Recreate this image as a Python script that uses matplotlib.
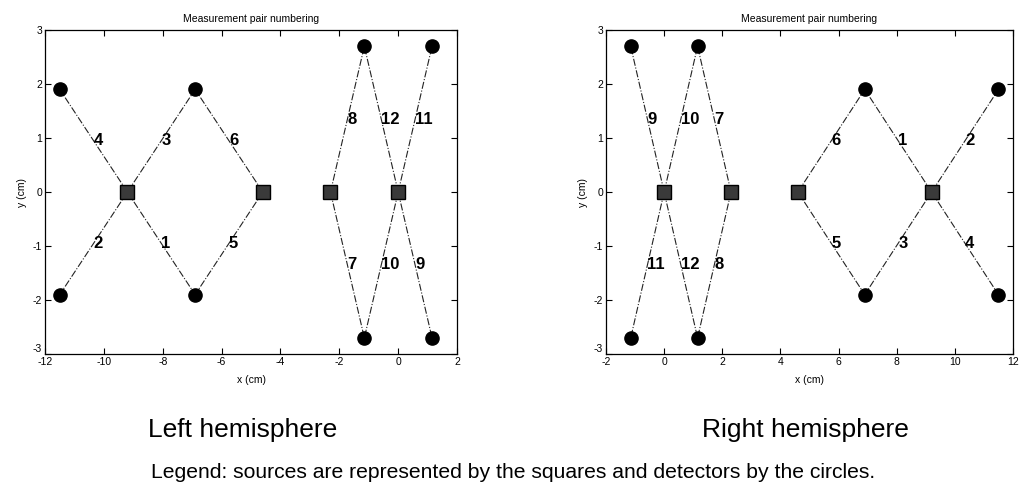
import matplotlib
matplotlib.use('Agg')
import matplotlib.pyplot as plt

plt.rcParams['font.family'] = ['Liberation Sans', 'DejaVu Sans']
plt.rcParams['axes.unicode_minus'] = False

# optode layout, left hemisphere (cm)
left_src_x = [-9.2, -4.6, -2.3, 0.0]
left_src_y = [0.0, 0.0, 0.0, 0.0]
left_det_x = [-11.5, -6.9, -11.5, -6.9, -1.15, 1.15, -1.15, 1.15]
left_det_y = [1.9, 1.9, -1.9, -1.9, 2.7, 2.7, -2.7, -2.7]

# optode layout, right hemisphere (cm)
right_src_x = [9.2, 4.6, 2.3, 0.0]
right_src_y = [0.0, 0.0, 0.0, 0.0]
right_det_x = [11.5, 6.9, 11.5, 6.9, 1.15, -1.15, 1.15, -1.15]
right_det_y = [-1.9, -1.9, 1.9, 1.9, -2.7, -2.7, 2.7, 2.7]

# measurement pairs: number -> (source index, detector index)
pair_numbers = [1, 2, 3, 4, 5, 6, 7, 8, 9, 10, 11, 12]
pair_sources = [0, 0, 0, 0, 1, 1, 2, 2, 3, 3, 3, 3]
left_pair_detectors = [3, 2, 1, 0, 3, 1, 6, 4, 7, 6, 5, 4]
right_pair_detectors = [3, 2, 1, 0, 1, 3, 6, 4, 7, 6, 5, 4]

left_xticks = [-12, -10, -8, -6, -4, -2, 0, 2]
right_xticks = [-2, 0, 2, 4, 6, 8, 10, 12]
yticks = [-3, -2, -1, 0, 1, 2, 3]


def draw_hemisphere(ax, src_x, src_y, det_x, det_y, pair_detectors, xlim, xticks):
    """
    Draws the source-detector pairs with their numbers
    """
    for num, s, d in zip(pair_numbers, pair_sources, pair_detectors):
        xs = [src_x[s], det_x[d]]
        ys = [src_y[s], det_y[d]]
        ax.plot(xs, ys, linestyle='-.', color='#222222', linewidth=0.8, zorder=1)
        ax.text((xs[0] + xs[1]) / 2, (ys[0] + ys[1]) / 2, str(num),
                ha='left', va='center', fontsize=12, fontweight='bold',
                color='black', zorder=4)
    ax.plot(src_x, src_y, linestyle='none', marker='s', markersize=9.5,
            markerfacecolor='#3a3a3a', markeredgecolor='black', zorder=3)
    ax.plot(det_x, det_y, linestyle='none', marker='o', markersize=9.5,
            markerfacecolor='black', markeredgecolor='black', zorder=3)

    ax.set_xlim(xlim)
    ax.set_ylim(-3, 3)
    ax.set_xticks(xticks)
    ax.set_yticks(yticks)
    ax.tick_params(direction='in', length=4, width=0.8, labelsize=7.5,
                   top=True, right=True, pad=2)
    for sp in ax.spines.values():
        sp.set_linewidth(0.9)
    ax.set_title('Measurement pair numbering', fontsize=7.5, pad=6)
    ax.set_xlabel('x (cm)', fontsize=7.5, labelpad=6)
    ax.set_ylabel('y (cm)', fontsize=7.5, labelpad=4)
    # lift the bottom y label a little so it clears the first x label
    ax.get_yticklabels()[0].set_verticalalignment('bottom')


fig = plt.figure(figsize=(10.28, 4.86), dpi=100)
ax_left = fig.add_axes([0.0438, 0.2715, 0.4008, 0.6667])
ax_right = fig.add_axes([0.5895, 0.2715, 0.3959, 0.6667])

draw_hemisphere(ax_left, left_src_x, left_src_y, left_det_x, left_det_y,
                left_pair_detectors, (-12, 2), left_xticks)
draw_hemisphere(ax_right, right_src_x, right_src_y, right_det_x, right_det_y,
                right_pair_detectors, (-2, 12), right_xticks)

fig.text(243 / 1028, 1 - 437 / 486, 'Left hemisphere', ha='center',
         va='baseline', fontsize=19)
fig.text(805 / 1028, 1 - 437 / 486, 'Right hemisphere', ha='center',
         va='baseline', fontsize=19)
fig.text(513 / 1028, 1 - 478 / 486,
         'Legend: sources are represented by the squares and detectors by the circles.',
         ha='center', va='baseline', fontsize=15.2)

fig.savefig('out.png', dpi=100)
